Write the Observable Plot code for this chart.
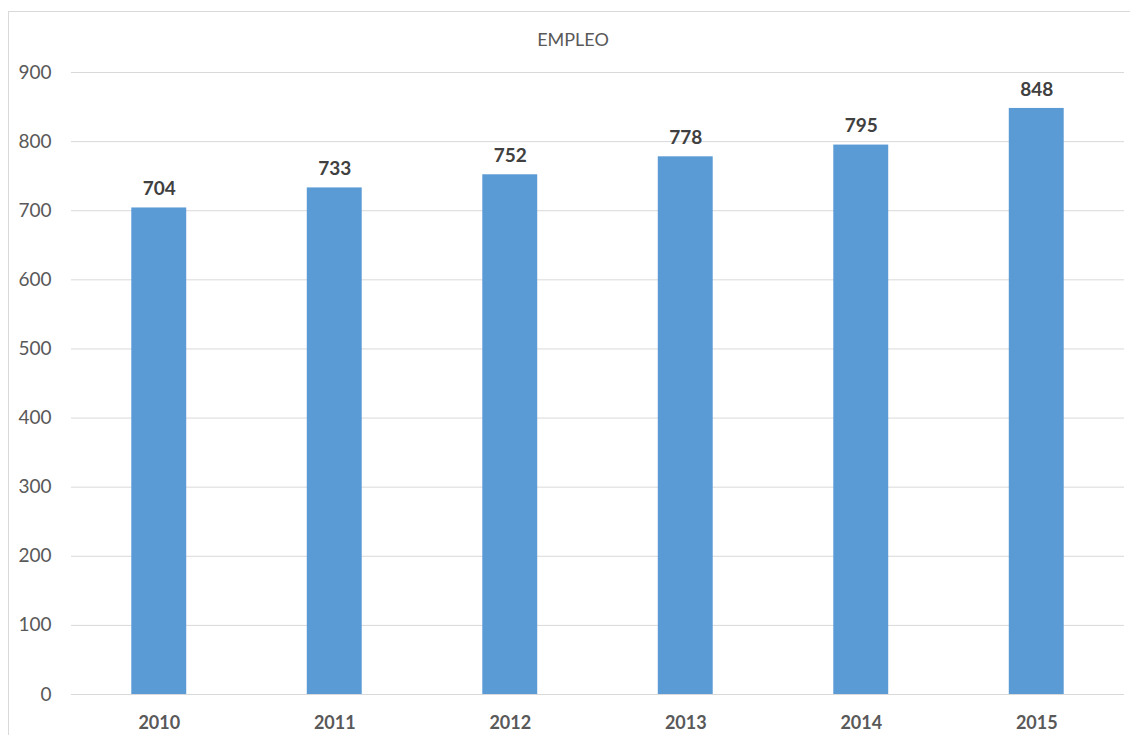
<!DOCTYPE html>
<html>
<head>
<meta charset="utf-8">
<script src="https://cdn.jsdelivr.net/npm/d3@7"></script>
<script src="https://cdn.jsdelivr.net/npm/@observablehq/plot@0.6"></script>
<style>
  html, body { margin: 0; padding: 0; background: #fff; }
  #wrap { position: relative; width: 1130px; height: 735px; overflow: hidden; }
  #frame { position: absolute; left: 8px; top: 11px; width: 1140px; height: 740px;
           border-left: 1px solid #d9d9d9; border-top: 1px solid #d9d9d9; }
  #title { position: absolute; left: 8px; width: 1130px; top: 28px; text-align: center;
           font-family: Lato, "Open Sans", sans-serif; font-size: 18px; color: #595959; }
  #chart { position: absolute; left: 0; top: 0; }
</style>
</head>
<body>
<div id="wrap">
  <div id="frame"></div>
  <div id="title">EMPLEO</div>
  <div id="chart"></div>
</div>
<script>
const years = ["2010", "2011", "2012", "2013", "2014", "2015"];
const empleo = [704, 733, 752, 778, 795, 848];
const yTicks = [0, 100, 200, 300, 400, 500, 600, 700, 800, 900];

const data = years.map((y, i) => ({year: y, value: empleo[i]}));

const chart = Plot.plot({
  width: 1130,
  height: 735,
  marginTop: 72,
  marginBottom: 41,
  marginLeft: 71,
  marginRight: 6,
  style: {fontFamily: "Lato, 'Open Sans', sans-serif", background: "transparent"},
  x: {domain: years, paddingInner: 0.687, paddingOuter: 0.3435, round: false, label: null},
  y: {domain: [0, 900], ticks: yTicks, label: null},
  marks: [
    Plot.gridY(yTicks, {stroke: "#d9d9d9", strokeOpacity: 1, strokeWidth: 1}),
    Plot.barY(data, {x: "year", y: "value", fill: "#5B9BD5"}),
    Plot.text(data, {x: "year", y: "value", text: d => String(d.value), dy: -19,
      fill: "#404040", fontWeight: "bold", fontSize: 19, lineAnchor: "middle"}),
    Plot.axisY(yTicks, {tickSize: 0, tickPadding: 20, fontSize: 19, fill: "#595959",
      tickFormat: d => String(d)}),
    Plot.axisX({tickSize: 0, tickPadding: 22, fontSize: 18, fontWeight: "bold", fill: "#595959"})
  ]
});
document.getElementById("chart").appendChild(chart);
</script>
</body>
</html>
